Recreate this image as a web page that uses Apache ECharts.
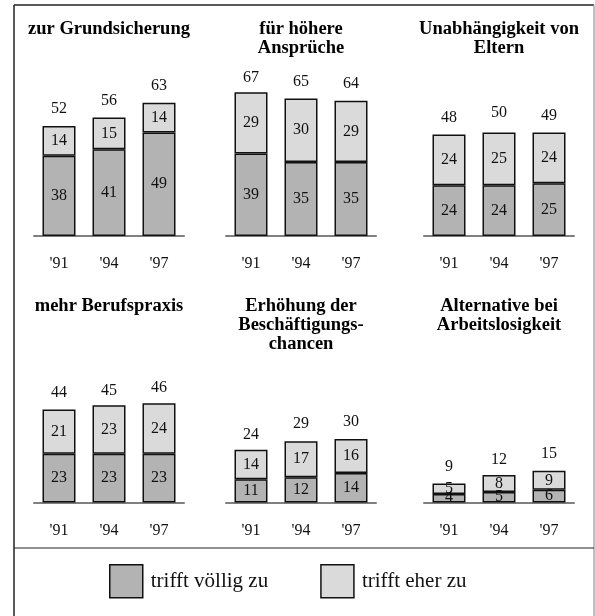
<!DOCTYPE html>
<html>
<head>
<meta charset="utf-8">
<script src="https://cdn.jsdelivr.net/npm/echarts@6/dist/echarts.min.js"></script>
<style>
  html, body { margin: 0; padding: 0; background: #fff; }
  #chart { width: 595px; height: 616px; }
</style>
</head>
<body>
<div id="chart"></div>
<script>
// Survey years shown under each group of bars
const years = ["'91", "'94", "'97"];

// Panel headings (multi-line where the heading wraps)
const panelTitles = [
  'zur Grundsicherung',
  'für höhere\nAnsprüche',
  'Unabhängigkeit von\nEltern',
  'mehr Berufspraxis',
  'Erhöhung der\nBeschäftigungs-\nchancen',
  'Alternative bei\nArbeitslosigkeit'
];

// "trifft völlig zu" per panel and year
const voellig = [
  [38, 41, 49],
  [39, 35, 35],
  [24, 24, 25],
  [23, 23, 23],
  [11, 12, 14],
  [4, 5, 6]
];

// "trifft eher zu" per panel and year
const eher = [
  [14, 15, 14],
  [29, 30, 29],
  [24, 25, 24],
  [21, 23, 24],
  [14, 17, 16],
  [5, 8, 9]
];

// Stated totals above each bar
const gesamt = [
  [52, 56, 63],
  [67, 65, 64],
  [48, 50, 49],
  [44, 45, 46],
  [24, 29, 30],
  [9, 12, 15]
];

const seriesNames = ['trifft völlig zu', 'trifft eher zu'];

const serif = '"Liberation Serif", "Times New Roman", serif';
const darkFill = '#b3b3b3';
const lightFill = '#dadada';

// Layout of the six small multiples
const colLeft = [34, 226, 424];
const colCenter = [109, 301, 499];
const plotWidth = 150;
const plotHeight = 148;
const rowBase = [236, 502.5];
const titleTop = [19.5, 297];
const yMax = 70;

const grids = [], xAxes = [], yAxes = [], series = [], titles = [];

for (let p = 0; p < 6; p++) {
  const col = p % 3, row = Math.floor(p / 3);
  grids.push({
    left: colLeft[col],
    top: rowBase[row] - plotHeight,
    width: plotWidth,
    height: plotHeight
  });
  xAxes.push({
    type: 'category',
    gridIndex: p,
    data: years,
    axisLine: { lineStyle: { color: '#808080', width: 2 } },
    axisTick: { show: false },
    axisLabel: { margin: 20, fontFamily: serif, fontSize: 16, color: '#111' }
  });
  yAxes.push({
    type: 'value',
    gridIndex: p,
    min: 0,
    max: yMax,
    show: false,
    splitLine: { show: false }
  });
  titles.push({
    text: panelTitles[p],
    left: colCenter[col],
    top: titleTop[row],
    textAlign: 'center',
    padding: 0,
    textStyle: {
      fontFamily: serif,
      fontWeight: 'bold',
      fontSize: 18.5,
      lineHeight: 19,
      color: '#000'
    }
  });

  const barLabel = {
    show: true,
    position: 'inside',
    fontFamily: serif,
    fontSize: 16,
    color: '#111'
  };
  series.push({
    name: seriesNames[0],
    type: 'bar',
    xAxisIndex: p,
    yAxisIndex: p,
    stack: 'p' + p,
    barWidth: 33,
    data: voellig[p],
    z: 3,
    itemStyle: { color: darkFill, borderColor: '#111', borderWidth: 1.5 },
    label: barLabel
  });
  series.push({
    name: seriesNames[1],
    type: 'bar',
    xAxisIndex: p,
    yAxisIndex: p,
    stack: 'p' + p,
    barWidth: 33,
    data: eher[p],
    z: 3,
    itemStyle: { color: lightFill, borderColor: '#111', borderWidth: 1.5 },
    label: barLabel
  });
  // Totals: an unfilled bar at the stated total carries the figure on top
  series.push({
    name: 'gesamt',
    type: 'bar',
    xAxisIndex: p,
    yAxisIndex: p,
    barWidth: 33,
    barGap: '-100%',
    data: gesamt[p],
    z: 1,
    silent: true,
    itemStyle: { color: 'rgba(255,255,255,0)', borderWidth: 0 },
    label: {
      show: true,
      position: 'top',
      distance: 9,
      fontFamily: serif,
      fontSize: 16,
      color: '#111'
    }
  });
}

const chart = echarts.init(document.getElementById('chart'), null, { renderer: 'canvas' });
chart.setOption({
  animation: false,
  backgroundColor: '#fff',
  title: titles,
  grid: grids,
  xAxis: xAxes,
  yAxis: yAxes,
  legend: {
    data: seriesNames,
    left: 109,
    top: 564,
    padding: 0,
    itemWidth: 33,
    itemHeight: 33,
    itemGap: 52,
    icon: 'rect',
    itemStyle: { borderColor: '#111', borderWidth: 1.5 },
    textStyle: {
      fontFamily: serif,
      fontSize: 21,
      color: '#111',
      padding: [0, 0, 0, 3]
    },
    selectedMode: false
  },
  graphic: [
    // outer frame and the rule above the legend
    { type: 'line', shape: { x1: 14, y1: 5, x2: 594, y2: 5 }, style: { stroke: '#222', lineWidth: 1.5 } },
    { type: 'line', shape: { x1: 14, y1: 5, x2: 14, y2: 616 }, style: { stroke: '#222', lineWidth: 1.5 } },
    { type: 'line', shape: { x1: 594, y1: 5, x2: 594, y2: 616 }, style: { stroke: '#aaa', lineWidth: 1.5 } },
    { type: 'line', shape: { x1: 14, y1: 548, x2: 594, y2: 548 }, style: { stroke: '#222', lineWidth: 1 } }
  ],
  series: series
});
</script>
</body>
</html>
